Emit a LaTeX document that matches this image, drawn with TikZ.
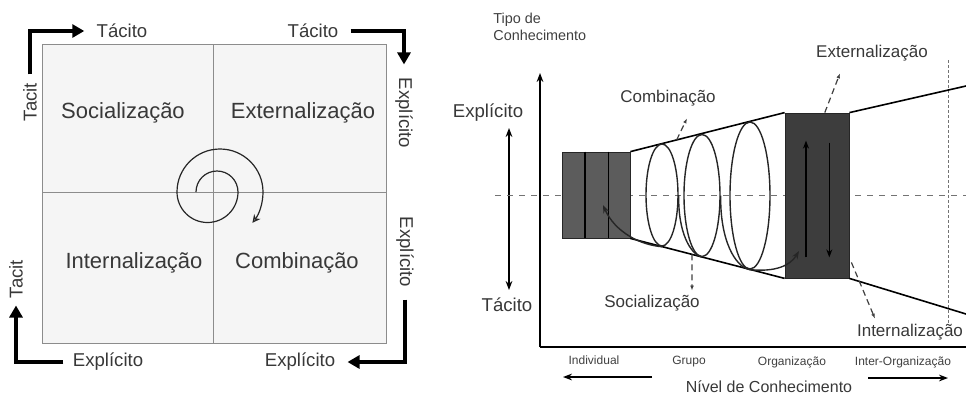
\documentclass[tikz,border=0pt]{standalone}
\usepackage{fontspec}
\setmainfont{Liberation Sans}
\usetikzlibrary{arrows.meta,calc,positioning,shapes.geometric}

\tikzstyle{quadtext} = [font=\fontsize{11}{13}\selectfont, text=black!78]
\tikzstyle{sidetext} = [font=\fontsize{9.3}{11}\selectfont, text=black!78, inner sep=0pt]
\tikzstyle{smalltext} = [font=\fontsize{8.5}{10}\selectfont, text=black!78, inner sep=0pt]
\tikzstyle{tinytext} = [font=\fontsize{6}{7}\selectfont, text=black!75, inner sep=0pt]
\tikzstyle{turnarrow} = [line width=1.7pt, -{Triangle[length=6pt,width=6.5pt]}]
\tikzstyle{axisarrow} = [line width=0.7pt, -{Stealth[length=4.5pt]}]
\tikzstyle{stack} = [rectangle, draw=black!85, fill=black!64, inner sep=0pt]
\tikzstyle{coil} = [ellipse, draw=black!85, line width=0.7pt, inner sep=0pt]
\tikzstyle{pointer} = [densely dashed, line width=0.6pt, black!75, -{Latex[length=2.5pt]}]

\begin{document}
\begin{tikzpicture}[x=0.5pt, y=-0.5pt]
\useasboundingbox (0,0) rectangle (966,398);

% left: SECI matrix
\draw[draw=black!45, fill=black!4] (42,44) rectangle (386,343);
\draw[black!45] (213,44) -- (213,343);
\draw[black!45] (42,192) -- (386,192);

\node[quadtext] (soc) at (123,113) {Socialização};
\node[quadtext] (ext) at (303,113) {Externalização};
\node[quadtext] (int) at (134,263) {Internalização};
\node[quadtext] (comb) at (297,263) {Combinação};

\node[sidetext] (tacTL) at (122,31) {Tácito};
\node[sidetext, rotate=90] (tacitL) at (30,102) {Tacit};
\node[sidetext] (tacTR) at (313,31) {Tácito};
\node[sidetext, rotate=-90] (expR) at (404,113) {Explícito};
\node[sidetext, rotate=-90] (expRB) at (405,252) {Explícito};
\node[sidetext] (expBR) at (300,362) {Explícito};
\node[sidetext] (expBL) at (108,362) {Explícito};
\node[sidetext, rotate=90] (tacitBL) at (16,279) {Tacit};

\draw[turnarrow] (tacitL.east) ++(0,-8) |- ([xshift=-6pt]tacTL.west);
\draw[turnarrow] (tacTR.east) ++(12,0) -| ([yshift=6.5pt]expR.west);
\draw[turnarrow] (expRB.east) ++(0,12) |- ([xshift=6pt]expBR.east);
\draw[turnarrow] (expBL.west) ++(-9,0) -| ([yshift=-3.5pt]tacitBL.west);

% spiral
\coordinate (spin) at (196,192);
\draw[line width=0.6pt, black!85, -{Stealth[open,length=4pt,width=4pt]}] (spin)
  arc[start angle=180, end angle=0, radius=10.5pt]
  arc[start angle=0, end angle=-180, radius=15.25pt]
  arc[start angle=180, end angle=0, radius=21.5pt]
  arc[start angle=0, end angle=-38, radius=25pt];

% right: knowledge spiral
\coordinate (O) at (540,347);
\coordinate (ytop) at (540,73);
\coordinate (xend) at (966,347);
\draw[axisarrow] (O) -- (ytop);
\draw[line width=0.9pt] (O) -- (xend);

\node[tinytext, font=\fontsize{7.2}{8.5}\selectfont, align=left, anchor=north west] (tipo) at (493,13) {Tipo de\\Conhecimento};

\node[sidetext] (explR) at (488,113) {Explícito};
\node[sidetext] (tacR) at (507,305) {Tácito};
\coordinate (eup) at (509,128);
\coordinate (edown) at (509,290);
\draw[line width=0.7pt, {Stealth[length=4.5pt]}-{Stealth[length=4.5pt]}] (edown) -- (eup);

\coordinate (midL) at (495,195);
\coordinate (midR) at (966,195);
\draw[dashed, black!55, line width=0.5pt] (midL) -- (midR);
\coordinate (vtop) at (948,60);
\coordinate (vbot) at (948,323);
\draw[dash pattern=on 1.5pt off 1pt, black!55, line width=0.5pt] (vtop) -- (vbot);

\node[stack, minimum width=34pt, minimum height=43pt] (indiv) at (596,195) {};
\node[stack, fill=black!76, minimum width=32pt, minimum height=82.5pt] (org) at (817,195.5) {};
\foreach \f in {0.34,0.68}
  \draw[line width=0.7pt] ($(indiv.north west)!\f!(indiv.north east)$) -- ($(indiv.south west)!\f!(indiv.south east)$);

\coordinate (upend) at (966,86);
\coordinate (lowend) at (966,314);
\draw[line width=0.8pt] (indiv.north east) -- (org.north west);
\draw[line width=0.8pt] (indiv.south east) -- (org.south west);
\draw[line width=0.8pt] (org.north east) -- (upend);
\draw[line width=0.8pt] (org.south east) -- (lowend);

\node[coil, minimum width=16pt, minimum height=51pt] (loop1) at (662,195) {};
\node[coil, minimum width=18pt, minimum height=61pt] (loop2) at (702,195.5) {};
\node[coil, minimum width=20pt, minimum height=73.5pt] (loop3) at (750,195.5) {};
\draw[line width=0.7pt, black!85] (loop1.east) .. controls (678,232) and (690,254) .. (loop2.south);
\draw[line width=0.7pt, black!85] (loop2.east) .. controls (720,240) and (735,267) .. (loop3.south);
\draw[line width=0.7pt, black!85, -{Stealth[length=4pt]}] (loop1.south) .. controls (640,245) and (615,232) .. (603,205);
\draw[line width=0.7pt, black!85, -{Stealth[length=4pt]}] (loop3.south) .. controls (775,272) and (790,266) .. (799,251);

\draw[line width=0.7pt, -{Stealth[length=4pt]}] ($(org.south west)!0.33!(org.south east)+(0,-21)$) -- ($(org.north west)!0.33!(org.north east)+(0,28)$);
\draw[line width=0.7pt, -{Stealth[length=4pt]}] ($(org.north west)!0.69!(org.north east)+(0,30)$) -- ($(org.south west)!0.69!(org.south east)+(0,-21)$);

\node[smalltext] (combR) at (668,98) {Combinação};
\node[smalltext] (extR) at (872,53) {Externalização};
\node[smalltext] (socR) at (652,303) {Socialização};
\node[smalltext] (intR) at (910,332) {Internalização};

\draw[pointer] ($(indiv.north east)!0.3!(org.north west)$) -- ($(combR.south)+(19,12)$);
\draw[pointer] ($(org.north west)!0.62!(org.north east)$) -- ($(extR.south)+(-32,12)$);
\draw[pointer] ($(indiv.south east)!0.4!(org.south west)$) -- ($(socR.north)+(40,-4)$);
\draw[pointer] ($(org.south east)+(2,-16)$) -- ($(intR.north)+(-35,-5)$);

\node[tinytext] (indl) at (594,360) {Individual};
\node[tinytext] (grp) at (689,362) {Grupo};
\node[tinytext] (orgl) at (792,362) {Organização};
\node[tinytext] (inter) at (903,362) {Inter-Organização};
\node[smalltext, font=\fontsize{8}{9}\selectfont] (nivel) at (769,387) {Nível de Conhecimento};

\coordinate (la) at (652,377);
\coordinate (lb) at (563,377);
\coordinate (ra) at (868,378);
\coordinate (rb) at (948,378);
\draw[axisarrow, line width=0.8pt] (la) -- (lb);
\draw[axisarrow, line width=0.8pt] (ra) -- (rb);

\end{tikzpicture}
\end{document}
